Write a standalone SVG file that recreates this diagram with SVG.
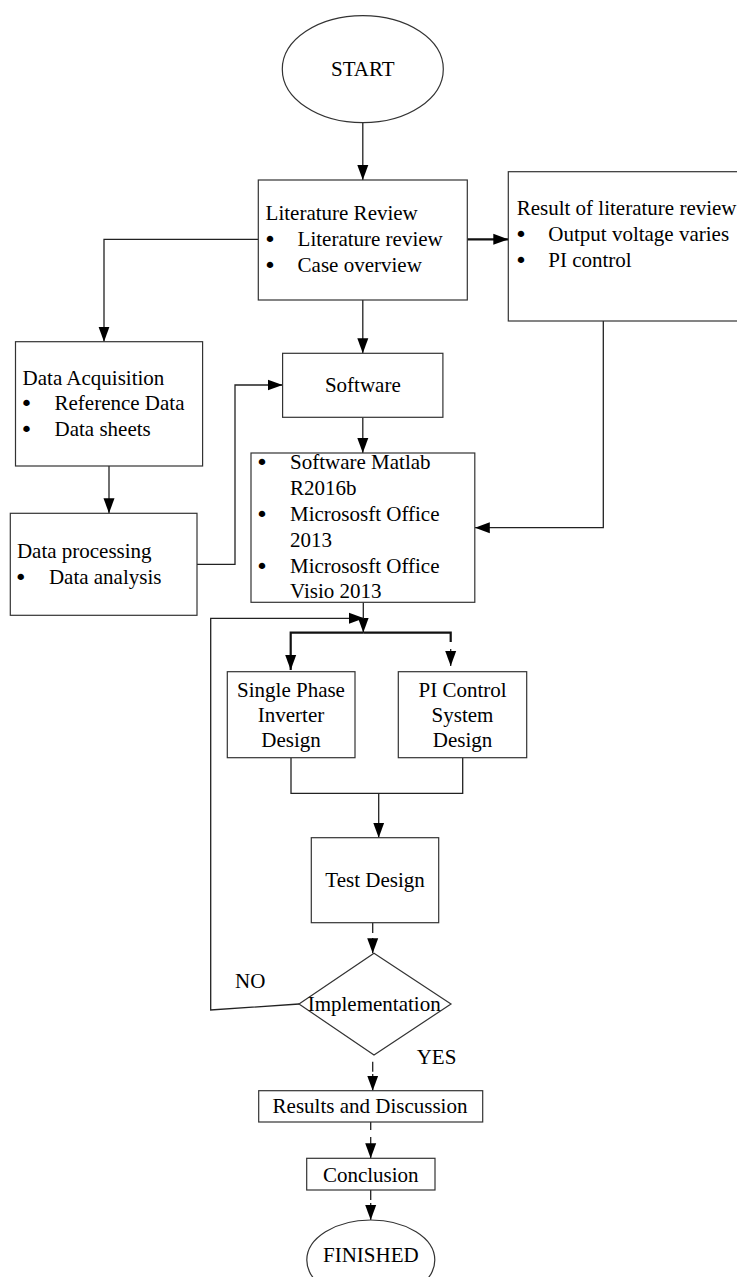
<svg xmlns="http://www.w3.org/2000/svg" width="737" height="1277" viewBox="0 0 737 1277">
<style>
.bx{fill:#fff;stroke:#333;stroke-width:1.2}
.t{font-family:"Liberation Serif","Times New Roman",serif;font-size:21px;fill:#000}
.b{font-family:"DejaVu Sans",sans-serif;font-size:22px;fill:#000}
.c{text-anchor:middle}
.ln{fill:none;stroke:#222;stroke-width:1.3}
.th{fill:none;stroke:#111;stroke-width:2.2}
</style>
<defs>
<marker id="ar" markerUnits="userSpaceOnUse" markerWidth="15" markerHeight="12" refX="15" refY="6" orient="auto">
<path d="M0,0.5 L15,6 L0,11.5 z" fill="#000"/>
</marker>
</defs>
<rect width="737" height="1277" fill="#fff"/>

<g id="connectors">
<path class="ln" d="M362.8,122.7 V180" marker-end="url(#ar)"/>
<path class="th" d="M467,239.3 H508.3" marker-end="url(#ar)"/>
<path class="ln" d="M258.3,239.3 H104 V341.7" marker-end="url(#ar)"/>
<path class="ln" d="M362.8,300 V353.3" marker-end="url(#ar)"/>
<path class="ln" d="M109,466 V513.3" marker-end="url(#ar)"/>
<path class="ln" d="M197,564.3 H235 V385 H282.6" marker-end="url(#ar)"/>
<path class="ln" d="M362.8,417.3 V453" marker-end="url(#ar)"/>
<path class="ln" d="M603.3,321 V527.7 H474.8" marker-end="url(#ar)"/>
<path class="ln" d="M363.3,602.3 V632.5" marker-end="url(#ar)"/>
<path class="ln" d="M299,1004 L210.7,1010 V618.3 H364" marker-end="url(#ar)"/>
<path class="th" d="M363.3,632.7 H290.7 V670" marker-end="url(#ar)"/>
<path class="th" d="M363.3,632.7 H450.7 V642"/>
<path class="ln" d="M450.7,649 V666" marker-end="url(#ar)"/>
<path class="ln" d="M291,757.7 V793.3 H462.7 V757.7"/>
<path class="ln" d="M378.7,793.3 V837.7" marker-end="url(#ar)"/>
<path class="ln" d="M372.7,922.7 V933"/>
<path class="ln" d="M372.7,938 V953.3" marker-end="url(#ar)"/>
<path class="ln" d="M372.7,1061.7 V1071.7"/>
<path class="ln" d="M372.7,1074 V1090.7" marker-end="url(#ar)"/>
<path class="ln" d="M370.7,1122 V1130"/>
<path class="ln" d="M370.7,1137 V1158.3" marker-end="url(#ar)"/>
<path class="ln" d="M370.7,1190 V1200"/>
<path class="ln" d="M370.7,1203 V1220" marker-end="url(#ar)"/>
</g>

<g id="start">
<ellipse class="bx" cx="362.8" cy="69.2" rx="80.5" ry="53.5"/>
<text class="t c" x="362.8" y="75.5">START</text>
</g>

<g id="literature-review">
<rect class="bx" x="258.3" y="180" width="209" height="120"/>
<text class="t" x="265.6" y="220">Literature Review</text>
<text class="b" x="263.5" y="247">•</text>
<text class="t" x="297.6" y="246">Literature review</text>
<text class="b" x="263.5" y="273">•</text>
<text class="t" x="297.6" y="272">Case overview</text>
</g>

<g id="result-review">
<rect class="bx" x="508.3" y="171.7" width="240" height="149.3"/>
<text class="t" x="516.7" y="215">Result of literature review</text>
<text class="b" x="514.5" y="242">•</text>
<text class="t" x="548.3" y="241">Output voltage varies</text>
<text class="b" x="514.5" y="267.7">•</text>
<text class="t" x="548.3" y="266.7">PI control</text>
</g>

<g id="data-acquisition">
<rect class="bx" x="15.5" y="341.7" width="187.1" height="124.3"/>
<text class="t" x="22.6" y="385">Data Acquisition</text>
<text class="b" x="20" y="411">•</text>
<text class="t" x="54.5" y="410">Reference Data</text>
<text class="b" x="20" y="437">•</text>
<text class="t" x="54.5" y="436">Data sheets</text>
</g>

<g id="data-processing">
<rect class="bx" x="10.3" y="513.3" width="186.7" height="102"/>
<text class="t" x="16.9" y="557.5">Data processing</text>
<text class="b" x="14.3" y="585">•</text>
<text class="t" x="48.9" y="584">Data analysis</text>
</g>

<g id="software">
<rect class="bx" x="282.6" y="353.3" width="160.3" height="64"/>
<text class="t c" x="362.8" y="391.7">Software</text>
</g>

<g id="software-list">
<rect class="bx" x="251" y="453" width="223.8" height="149.3"/>
<text class="b" x="255.5" y="470.3">•</text>
<text class="b" x="255.5" y="522">•</text>
<text class="b" x="255.5" y="573.7">•</text>
<text class="t" x="290" y="469.3">Software Matlab</text>
<text class="t" x="290" y="495">R2016b</text>
<text class="t" x="290" y="521">Micrososft Office</text>
<text class="t" x="290" y="546.7">2013</text>
<text class="t" x="290" y="572.7">Micrososft Office</text>
<text class="t" x="290" y="598.3">Visio 2013</text>
</g>

<g id="inverter-design">
<rect class="bx" x="227.3" y="671.7" width="127.7" height="86"/>
<text class="t c" x="291" y="696.7">Single Phase</text>
<text class="t c" x="291" y="721.7">Inverter</text>
<text class="t c" x="291" y="746.7">Design</text>
</g>

<g id="pi-design">
<rect class="bx" x="398.3" y="671.7" width="128.4" height="86"/>
<text class="t c" x="462.5" y="696.7">PI Control</text>
<text class="t c" x="462.5" y="721.7">System</text>
<text class="t c" x="462.5" y="746.7">Design</text>
</g>

<g id="test-design">
<rect class="bx" x="311.3" y="837.7" width="127.4" height="85"/>
<text class="t c" x="375" y="886.7">Test Design</text>
</g>

<g id="implementation">
<path class="bx" d="M374,953.3 L451,1004 L374,1055 L299,1004 Z"/>
<text class="t c" x="374.2" y="1010.7">Implementation</text>
<text class="t" x="235" y="988.3">NO</text>
<text class="t" x="416.7" y="1064.3">YES</text>
</g>

<g id="results">
<rect class="bx" x="258.7" y="1090.7" width="224" height="31.3"/>
<text class="t c" x="370" y="1112.7">Results and Discussion</text>
</g>

<g id="conclusion">
<rect class="bx" x="306.7" y="1158.3" width="128.3" height="31.7"/>
<text class="t c" x="370.8" y="1181.7">Conclusion</text>
</g>

<g id="finished">
<ellipse class="bx" cx="370.8" cy="1260" rx="64" ry="40"/>
<text class="t c" x="370.8" y="1261.7">FINISHED</text>
</g>
</svg>
